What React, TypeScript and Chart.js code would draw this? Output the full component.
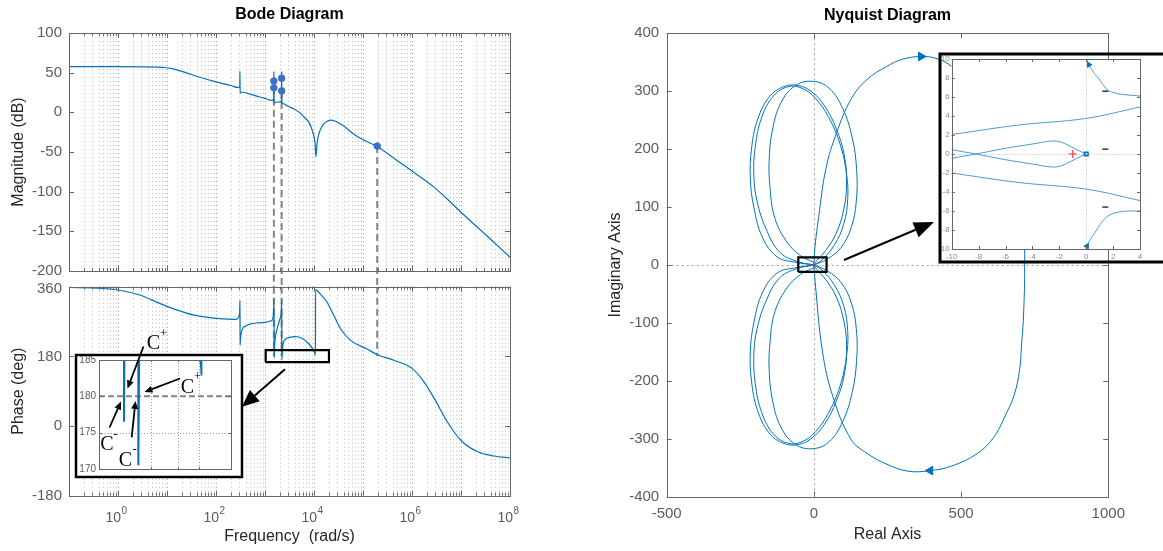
import React, { useEffect, useRef } from 'react';
import { Chart, registerables } from 'chart.js';

Chart.register(...registerables);

const FONT = '"Liberation Sans", Arial, Helvetica, sans-serif';
const SERIF = '"Liberation Serif", "Times New Roman", Times, serif';
const BLUE = '#0072BD';
const LIGHT_BLUE = '#4a9bd6';
const DOT_BLUE = '#3d6fc6';
const AXIS = '#666666';
const TICK_TEXT = '#5c5c5c';
const LABEL_TEXT = '#262626';
const GRID = '#bdbdbd';
const GRID_MAJOR = '#9a9a9a';
const GUIDE = '#858585';

// ---------- Bode axes ----------
const freqDecades = [0.1, 1, 10, 100, 1000, 1e4, 1e5, 1e6, 1e7, 1e8];
const freqMinorSteps = [2, 3, 4, 5, 6, 7, 8, 9];
const freqLabelValues = [1, 100, 1e4, 1e6, 1e8];
const freqLabelExps = ['0', '2', '4', '6', '8'];
const magTicks = [100, 50, 0, -50, -100, -150, -200];
const phaseTicks = [360, 180, 0, -180];
const insetPhaseTicks = [185, 180, 175, 170];
const insetPhaseGridFreq = [3000, 6000, 10000];
const insetPhaseGridDeg = [175];

// ---------- Bode magnitude (rad/s, dB) ----------
const magFreq = [0.1, 1, 3.16, 6.3, 8.9, 12.6, 20, 47, 100, 200, 282, 306, 308, 311, 316, 363, 631, 1000, 1349, 1479, 1507, 1517, 1528, 1585, 1820, 2138, 2173, 2188, 2208, 2344, 2884, 3981, 5129, 6310, 7943, 9333, 10470, 10965, 11480, 12590, 14790, 17780, 21380, 28180, 39810, 63100, 1e5, 195000, 501000, 1e6, 2.69e6, 6.3e6, 1e7, 3.16e7, 1e8];
const magDb = [57.5, 57.5, 57.4, 57.1, 56.5, 55, 51.7, 44.2, 38.4, 33.8, 31.3, 33, 52, 24, 25.5, 25.3, 21, 17.5, 15, 15.5, 22, 51, 14, 12.5, 13, 13.5, 22, 51, 12, 11, 8, 4, -0.4, -6, -13, -24, -38, -56, -40, -27, -17, -12, -9.7, -11.5, -17, -27, -34.5, -43, -61, -74, -93.3, -114, -126, -154, -182.7];

// ---------- Bode phase (rad/s, deg) ----------
const phaseFreq = [0.1, 0.42, 1, 2.77, 7.1, 15.6, 34.3, 75, 225, 275, 298, 305, 309, 310, 316, 339, 398, 562, 1000, 1349, 1479, 1531, 1535, 1585, 1778, 1995, 2163, 2193, 2198, 2291, 2512, 3162, 4169, 5623, 7943, 10000, 10720, 10750, 11480, 14130, 18200, 25120, 34670, 55080, 120800, 199500, 424600, 1e6, 1.74e6, 2.82e6, 5.25e6, 9.77e6, 2.14e7, 4.68e7, 1e8];
const phaseDeg = [358, 356, 351.5, 338.5, 317, 300, 287, 280, 275.6, 277, 285, 300, 325, 209, 225, 248, 258, 265, 268, 272, 285, 330, 176.5, 215, 252, 275, 300, 326, 170.5, 205, 222, 229, 231, 227, 212, 193, 183, 352, 350, 338, 321, 287, 252, 222, 199, 184, 170, 149, 115, 72, 11, -36, -66, -77.5, -82];

// markers and guide lines
const markFreq = [1517, 1517, 2188, 2188, 195000];
const markDb = [39.5, 31, 43, 27, -42.5];
const guideFreq = [1517, 2188, 195000];
const guideStartDb = [31, 27, -42.5];
const guideEndDb = -221;
const phaseGuideTop = 360;
const phaseGuideBottom = 180;
const phaseBoxFreq = [1033, 20200];
const phaseBoxDeg = [165, 196];
const insetFreqRange = [818, 22550];
const insetDegRange = [170, 185];
const criticalDeg = 180;

// ---------- Nyquist axes ----------
const nyqXTicks = [-500, 0, 500, 1000];
const nyqYTicks = [400, 300, 200, 100, 0, -100, -200, -300, -400];
const nyqInsetXTicks = [-10, -8, -6, -4, -2, 0, 2, 4];
const nyqInsetYTicks = [10, 8, 6, 4, 2, 0, -2, -4, -6, -8, -10];
const nyqMainOverlayTicks = [300, 200, 100];

// ---------- Nyquist main curves (real, imag) ----------
const bigRe = [0, 4, 16, 41, 77, 126, 180, 248, 300, 364, 420, 468, 560, 640, 690, 712, 716, 712, 705, 699, 680, 651, 610, 553, 468, 395, 320, 248, 180, 126, 65, 29, 4, 0];
const bigIm = [0, 33, 82, 167, 228, 286, 320, 343, 355, 360, 356, 343, 305, 240, 160, 70, 0, -88, -140, -180, -225, -259, -298, -326, -347, -355, -356, -344, -325, -301, -228, -149, -28, 0];

const loopATopRe = [0, -45, -95, -135, -150, -152, -142, -112, -62, -2, 52, 98, 130, 145, 144, 127, 92, 45, 0];
const loopATopIm = [5, 16, 42, 85, 140, 180, 230, 280, 310, 317, 305, 270, 220, 165, 110, 65, 30, 10, 0];
const loopBTopRe = [0, -65, -125, -175, -204, -216, -212, -192, -152, -102, -55, -10, 36, 76, 103, 111, 101, 76, 40, 10, 0];
const loopBTopIm = [0, 5, 14, 48, 100, 150, 200, 250, 290, 308, 310, 300, 275, 235, 190, 140, 95, 55, 25, 8, 0];
const loopCTopRe = [0, -62, -118, -163, -193, -204, -199, -177, -137, -86, -40, 5, 50, 88, 110, 115, 101, 70, 30, 0];
const loopCTopIm = [0, 7, 23, 63, 110, 155, 205, 255, 292, 308, 305, 288, 255, 210, 160, 115, 70, 35, 10, 0];

const loopABotRe = [0, -45, -95, -135, -150, -152, -142, -112, -62, -2, 52, 98, 130, 145, 144, 127, 92, 45, 0];
const loopABotIm = [-5, -16, -42, -85, -140, -180, -230, -280, -310, -317, -305, -270, -220, -165, -110, -65, -30, -10, 0];
const loopBBotRe = [0, -65, -125, -175, -204, -216, -212, -192, -152, -102, -55, -10, 36, 76, 103, 111, 101, 76, 40, 10, 0];
const loopBBotIm = [0, -5, -14, -48, -100, -150, -200, -250, -290, -308, -310, -300, -275, -235, -190, -140, -95, -55, -25, -8, 0];
const loopCBotRe = [0, -62, -118, -163, -193, -204, -199, -177, -137, -86, -40, 5, 50, 88, 110, 115, 101, 70, 30, 0];
const loopCBotIm = [0, -7, -23, -63, -110, -155, -205, -255, -292, -308, -305, -288, -255, -210, -160, -115, -70, -35, -10, 0];

const arrowRe = [364, 395];
const arrowIm = [360, -355];
const arrowRot = [90, -90];
const criticalRe = [-1];
const criticalIm = [0];
const nyqBoxRe = [-53, 43];
const nyqBoxIm = [-12, 13];

// ---------- Nyquist inset curves ----------
const inLineTopRe = [-10, -5, 0, 4];
const inLineTopIm = [2.05, 3.05, 3.75, 4.95];
const inLineBotRe = [-10, -5, 0, 4];
const inLineBotIm = [-2.0, -3.0, -3.7, -4.9];
const inLobeARe = [-10, -8.2, -6, -4, -2.7, -2, -1.45, -0.7, 0];
const inLobeAIm = [-0.45, 0, 0.6, 1.05, 1.35, 1.3, 1.0, 0.45, 0];
const inLobeBRe = [-10, -8.2, -6, -4, -2.7, -2, -1.45, -0.7, 0];
const inLobeBIm = [0.45, 0, -0.6, -1.05, -1.35, -1.3, -1.0, -0.45, 0];
const inTopRe = [0.03, 0.2, 0.5, 0.9, 1.3, 1.64, 2.2, 2.64, 4];
const inTopIm = [10, 9.4, 8.7, 8.0, 7.2, 6.7, 6.4, 6.28, 6.1];
const inBotRe = [0, 0.03, 0.3, 0.78, 1.2, 1.77, 2.5, 3.26, 4];
const inBotIm = [-10, -9.75, -9.0, -8.0, -7.1, -6.4, -6.1, -6.0, -6.0];
const inArrowRe = [0.2, 0.05];
const inArrowIm = [9.4, -9.7];
const inStartRe = [0];
const inStartIm = [0];

// ---------- helpers ----------
const pts = (xs: number[], ys: number[]) => xs.map((x, i) => ({ x, y: ys[i] }));
const crisp = (v: number) => Math.round(v) + 0.5;
const freqMajorGrid = freqDecades;
const freqMinorGrid = freqDecades.slice(0, -1).flatMap((d) => freqMinorSteps.map((m) => d * m));

function seg(ctx: any, x1: number, y1: number, x2: number, y2: number) {
  ctx.beginPath();
  ctx.moveTo(x1, y1);
  ctx.lineTo(x2, y2);
  ctx.stroke();
}

function frame(ctx: any, a: any, color: string, lw = 1) {
  ctx.save();
  ctx.setLineDash([]);
  ctx.strokeStyle = color;
  ctx.lineWidth = lw;
  const l = Math.round(a.left), t = Math.round(a.top), r = Math.round(a.right), b = Math.round(a.bottom);
  ctx.strokeRect(l + 0.5, t + 0.5, r - l, b - t);
  ctx.restore();
}

function xTickMarks(ctx: any, chart: any, values: number[], len: number, color = AXIS) {
  const a = chart.chartArea;
  const s = chart.scales.x;
  ctx.save();
  ctx.setLineDash([]);
  ctx.strokeStyle = color;
  ctx.lineWidth = 1;
  for (const v of values) {
    if (v < s.min || v > s.max) continue;
    const x = crisp(s.getPixelForValue(v));
    seg(ctx, x, a.bottom, x, a.bottom - len);
    seg(ctx, x, a.top, x, a.top + len);
  }
  ctx.restore();
}

function yTickMarks(ctx: any, chart: any, values: number[], len: number, color = AXIS) {
  const a = chart.chartArea;
  const s = chart.scales.y;
  ctx.save();
  ctx.setLineDash([]);
  ctx.strokeStyle = color;
  ctx.lineWidth = 1;
  for (const v of values) {
    const y = crisp(s.getPixelForValue(v));
    seg(ctx, a.left, y, a.left + len, y);
    seg(ctx, a.right, y, a.right - len, y);
  }
  ctx.restore();
}

function vGrid(ctx: any, chart: any, values: number[], color: string, dash: number[]) {
  const a = chart.chartArea;
  const s = chart.scales.x;
  ctx.save();
  ctx.strokeStyle = color;
  ctx.lineWidth = 1;
  ctx.setLineDash(dash);
  for (const v of values) {
    if (v <= s.min || v >= s.max) continue;
    const x = crisp(s.getPixelForValue(v));
    seg(ctx, x, a.top, x, a.bottom);
  }
  ctx.restore();
}

function hGrid(ctx: any, chart: any, values: number[], color: string, dash: number[]) {
  const a = chart.chartArea;
  const s = chart.scales.y;
  ctx.save();
  ctx.strokeStyle = color;
  ctx.lineWidth = 1;
  ctx.setLineDash(dash);
  for (const v of values) {
    const y = crisp(s.getPixelForValue(v));
    seg(ctx, a.left, y, a.right, y);
  }
  ctx.restore();
}

function label(ctx: any, s: string, x: number, y: number, font: string, color: string, align = 'center', baseline = 'middle') {
  ctx.save();
  ctx.font = font;
  ctx.fillStyle = color;
  ctx.textAlign = align;
  ctx.textBaseline = baseline;
  ctx.fillText(s, x, y);
  ctx.restore();
}

function vLabel(ctx: any, s: string, x: number, y: number, font: string, color: string) {
  ctx.save();
  ctx.translate(x, y);
  ctx.rotate(-Math.PI / 2);
  ctx.font = font;
  ctx.fillStyle = color;
  ctx.textAlign = 'center';
  ctx.textBaseline = 'middle';
  ctx.fillText(s, 0, 0);
  ctx.restore();
}

function arrow(ctx: any, x1: number, y1: number, x2: number, y2: number, head: number, width: number, lw: number) {
  const a = Math.atan2(y2 - y1, x2 - x1);
  const bx = x2 - head * Math.cos(a);
  const by = y2 - head * Math.sin(a);
  ctx.save();
  ctx.setLineDash([]);
  ctx.strokeStyle = '#000';
  ctx.fillStyle = '#000';
  ctx.lineWidth = lw;
  seg(ctx, x1, y1, bx, by);
  const nx = (-Math.sin(a) * width) / 2;
  const ny = (Math.cos(a) * width) / 2;
  ctx.beginPath();
  ctx.moveTo(x2, y2);
  ctx.lineTo(bx + nx, by + ny);
  ctx.lineTo(bx - nx, by - ny);
  ctx.closePath();
  ctx.fill();
  ctx.restore();
}

function baseOptions(padding: any, x: any, y: any) {
  return {
    responsive: false,
    maintainAspectRatio: false,
    animation: false,
    events: [],
    layout: { padding },
    plugins: { legend: { display: false }, tooltip: { enabled: false }, title: { display: false } },
    elements: { point: { radius: 0 } },
    scales: { x: { ...x, display: false }, y: { ...y, display: false } },
  };
}

function curve(xs: number[], ys: number[], extra: any = {}) {
  return { data: pts(xs, ys), borderColor: BLUE, borderWidth: 1, pointRadius: 0, fill: false, ...extra };
}

// canvas placements (page pixels)
const MAG = { left: 0, top: 0, w: 560, h: 295 };
const PHA = { left: 0, top: 275, w: 560, h: 276 };
const PIN = { left: 68, top: 322, w: 182, h: 160 };
const NYQ = { left: 600, top: 0, w: 563, h: 551 };
const NIN = { left: 935, top: 45, w: 228, h: 225 };

const GRID_DASH = [1, 3];

export default function App() {
  const magRef = useRef<HTMLCanvasElement>(null);
  const phaRef = useRef<HTMLCanvasElement>(null);
  const pinRef = useRef<HTMLCanvasElement>(null);
  const nyqRef = useRef<HTMLCanvasElement>(null);
  const ninRef = useRef<HTMLCanvasElement>(null);

  useEffect(() => {
    const charts: any[] = [];

    // ---------------- Magnitude ----------------
    const magDeco = {
      id: 'magDeco',
      beforeDatasetsDraw(chart: any) {
        const ctx = chart.ctx;
        vGrid(ctx, chart, freqMinorGrid, GRID, GRID_DASH);
        vGrid(ctx, chart, freqMajorGrid, GRID_MAJOR, GRID_DASH);
      },
      afterDatasetsDraw(chart: any) {
        const ctx = chart.ctx;
        const a = chart.chartArea;
        frame(ctx, a, AXIS);
        xTickMarks(ctx, chart, freqMinorGrid, 3);
        xTickMarks(ctx, chart, freqMajorGrid, 5);
        yTickMarks(ctx, chart, magTicks, 5);
        for (const v of magTicks) {
          label(ctx, String(v), a.left - 7, chart.scales.y.getPixelForValue(v), `15px ${FONT}`, TICK_TEXT, 'right');
        }
        label(ctx, 'Bode Diagram', (a.left + a.right) / 2, 15, `bold 16px ${FONT}`, '#000');
        vLabel(ctx, 'Magnitude (dB)', 19, (a.top + a.bottom) / 2, `16px ${FONT}`, LABEL_TEXT);
      },
    };
    const magChart = new Chart(magRef.current as any, {
      type: 'line',
      data: {
        datasets: [
          { ...curve(markFreq, markDb), showLine: false, pointRadius: 3.3, pointBackgroundColor: DOT_BLUE, pointBorderColor: DOT_BLUE, order: 0 },
          curve(magFreq, magDb, { cubicInterpolationMode: 'monotone', borderWidth: 1.2, order: 1 }),
          ...guideFreq.map((f, i) => ({
            data: pts([f, f], [guideStartDb[i], guideEndDb]),
            borderColor: GUIDE, borderWidth: 2, borderDash: [7, 4], pointRadius: 0, clip: false, order: 2,
          })),
        ],
      },
      options: baseOptions(
        { left: 69, top: 33, right: MAG.w - 510, bottom: MAG.h - 271 },
        { type: 'logarithmic', min: 0.1, max: 1e8 },
        { type: 'linear', min: -200, max: 100 },
      ) as any,
      plugins: [magDeco],
    });
    charts.push(magChart);

    // ---------------- Phase ----------------
    const phaDeco = {
      id: 'phaDeco',
      beforeDatasetsDraw(chart: any) {
        const ctx = chart.ctx;
        vGrid(ctx, chart, freqMinorGrid, GRID, GRID_DASH);
        vGrid(ctx, chart, freqMajorGrid, GRID_MAJOR, GRID_DASH);
      },
      afterDatasetsDraw(chart: any) {
        const ctx = chart.ctx;
        const a = chart.chartArea;
        frame(ctx, a, AXIS);
        xTickMarks(ctx, chart, freqMinorGrid, 3);
        xTickMarks(ctx, chart, freqMajorGrid, 5);
        yTickMarks(ctx, chart, phaseTicks, 5);
        for (const v of phaseTicks) {
          const y = chart.scales.y.getPixelForValue(v) + (v === 360 ? 2 : 0);
          label(ctx, String(v), a.left - 7, y, `15px ${FONT}`, TICK_TEXT, 'right');
        }
        freqLabelValues.forEach((f, i) => {
          const x = chart.scales.x.getPixelForValue(f);
          ctx.save();
          ctx.font = `14px ${FONT}`;
          const w1 = ctx.measureText('10').width;
          ctx.font = `10px ${FONT}`;
          const w2 = ctx.measureText(freqLabelExps[i]).width;
          ctx.restore();
          const x0 = x - (w1 + w2) / 2 - 2;
          label(ctx, '10', x0, a.bottom + 26, `14px ${FONT}`, TICK_TEXT, 'left', 'alphabetic');
          label(ctx, freqLabelExps[i], x0 + w1 + 0.5, a.bottom + 18, `10px ${FONT}`, TICK_TEXT, 'left', 'alphabetic');
        });
        label(ctx, 'Frequency  (rad/s)', (a.left + a.right) / 2, a.bottom + 41, `16px ${FONT}`, LABEL_TEXT);
        vLabel(ctx, 'Phase (deg)', 19, (a.top + a.bottom) / 2, `16px ${FONT}`, LABEL_TEXT);
        arrow(ctx, 285 - PHA.left, 369.3 - PHA.top, 242 - PHA.left, 406.7 - PHA.top, 17, 15, 2);
      },
    };
    const phaChart = new Chart(phaRef.current as any, {
      type: 'line',
      data: {
        datasets: [
          curve(phaseFreq, phaseDeg, { cubicInterpolationMode: 'monotone', borderWidth: 1.2, order: 1 }),
          ...guideFreq.map((f) => ({
            data: pts([f, f], [phaseGuideTop, phaseGuideBottom]),
            borderColor: GUIDE, borderWidth: 2, borderDash: [7, 4], pointRadius: 0, order: 2,
          })),
          {
            data: pts(
              [phaseBoxFreq[0], phaseBoxFreq[1], phaseBoxFreq[1], phaseBoxFreq[0], phaseBoxFreq[0]],
              [phaseBoxDeg[0], phaseBoxDeg[0], phaseBoxDeg[1], phaseBoxDeg[1], phaseBoxDeg[0]],
            ),
            borderColor: '#000', borderWidth: 2.2, pointRadius: 0, order: 0, clip: false,
          },
        ],
      },
      options: baseOptions(
        { left: 69, top: 286.7 - PHA.top, right: PHA.w - 510, bottom: PHA.h - (495.7 - PHA.top) },
        { type: 'logarithmic', min: 0.1, max: 1e8 },
        { type: 'linear', min: -180, max: 360 },
      ) as any,
      plugins: [phaDeco],
    });
    charts.push(phaChart);

    // ---------------- Phase inset ----------------
    const pinDeco = {
      id: 'pinDeco',
      beforeDraw(chart: any) {
        const ctx = chart.ctx;
        ctx.save();
        ctx.fillStyle = '#fff';
        ctx.fillRect(76 - PIN.left, 355 - PIN.top, 166, 122);
        ctx.restore();
      },
      beforeDatasetsDraw(chart: any) {
        const ctx = chart.ctx;
        vGrid(ctx, chart, insetPhaseGridFreq, GRID_MAJOR, [1, 2]);
        hGrid(ctx, chart, insetPhaseGridDeg, GRID_MAJOR, [1, 2]);
      },
      afterDatasetsDraw(chart: any) {
        const ctx = chart.ctx;
        const a = chart.chartArea;
        frame(ctx, a, AXIS);
        xTickMarks(ctx, chart, insetPhaseGridFreq, 2);
        yTickMarks(ctx, chart, insetPhaseTicks, 3);
        for (const v of insetPhaseTicks) {
          label(ctx, String(v), a.left - 3, chart.scales.y.getPixelForValue(v), `10px ${FONT}`, TICK_TEXT, 'right');
        }
        ctx.save();
        ctx.strokeStyle = '#000';
        ctx.lineWidth = 2.5;
        ctx.strokeRect(76 - PIN.left, 355 - PIN.top, 166, 122);
        ctx.restore();
        const ox = PIN.left, oy = PIN.top;
        const notes = [
          { x: 153.3, y: 343.3, sx: 163.3, sy: 334, s: '+' },
          { x: 187.3, y: 387.3, sx: 197.7, sy: 377, s: '+' },
          { x: 107, y: 445, sx: 115.3, sy: 435, s: '-' },
          { x: 125.5, y: 460.3, sx: 134.7, sy: 449.3, s: '-' },
        ];
        for (const n of notes) {
          label(ctx, 'C', n.x - ox, n.y - oy, `20px ${SERIF}`, '#000');
          label(ctx, n.s, n.sx - ox, n.sy - oy, `13px ${SERIF}`, '#000');
        }
        const arrows = [
          [143.5, 346.5, 127.5, 388.5],
          [180, 378.5, 144.5, 392],
          [109.5, 427.5, 121, 401.5],
          [131.7, 437.3, 135.5, 401],
        ];
        for (const [x1, y1, x2, y2] of arrows) arrow(ctx, x1 - ox, y1 - oy, x2 - ox, y2 - oy, 8, 7, 1.8);
      },
    };
    const pinChart = new Chart(pinRef.current as any, {
      type: 'line',
      data: {
        datasets: [
          curve(phaseFreq, phaseDeg, { cubicInterpolationMode: 'monotone', borderWidth: 2, order: 0 }),
          {
            data: pts(insetFreqRange, [criticalDeg, criticalDeg]),
            borderColor: GUIDE, borderWidth: 2, borderDash: [6, 3], pointRadius: 0, order: 1,
          },
        ],
      },
      options: baseOptions(
        { left: 99 - PIN.left, top: 360 - PIN.top, right: PIN.w - (231 - PIN.left), bottom: PIN.h - (469 - PIN.top) },
        { type: 'logarithmic', min: insetFreqRange[0], max: insetFreqRange[1] },
        { type: 'linear', min: insetDegRange[0], max: insetDegRange[1] },
      ) as any,
      plugins: [pinDeco],
    });
    charts.push(pinChart);

    // ---------------- Nyquist main ----------------
    const nyqDeco = {
      id: 'nyqDeco',
      beforeDatasetsDraw(chart: any) {
        const ctx = chart.ctx;
        vGrid(ctx, chart, [0], '#a0a0a0', [2, 3]);
        hGrid(ctx, chart, [0], '#a0a0a0', [2, 3]);
      },
      afterDatasetsDraw(chart: any) {
        const ctx = chart.ctx;
        const a = chart.chartArea;
        frame(ctx, a, AXIS);
        xTickMarks(ctx, chart, nyqXTicks, 5);
        yTickMarks(ctx, chart, nyqYTicks, 5);
        for (const v of nyqYTicks) {
          label(ctx, String(v), a.left - 7.5, chart.scales.y.getPixelForValue(v), `15px ${FONT}`, TICK_TEXT, 'right');
        }
        for (const v of nyqXTicks) {
          label(ctx, String(v), chart.scales.x.getPixelForValue(v), a.bottom + 17, `15px ${FONT}`, TICK_TEXT);
        }
        label(ctx, 'Nyquist Diagram', (a.left + a.right) / 2, 16, `bold 16px ${FONT}`, '#000');
        label(ctx, 'Real Axis', (a.left + a.right) / 2, 535, `16px ${FONT}`, LABEL_TEXT);
        vLabel(ctx, 'Imaginary Axis', 616 - NYQ.left, (a.top + a.bottom) / 2, `16px ${FONT}`, LABEL_TEXT);
        arrow(ctx, 844 - NYQ.left, 260, 934 - NYQ.left, 222, 20, 16, 2);
      },
    };
    const nyqChart = new Chart(nyqRef.current as any, {
      type: 'line',
      data: {
        datasets: [
          {
            data: pts(
              [nyqBoxRe[0], nyqBoxRe[1], nyqBoxRe[1], nyqBoxRe[0], nyqBoxRe[0]],
              [nyqBoxIm[0], nyqBoxIm[0], nyqBoxIm[1], nyqBoxIm[1], nyqBoxIm[0]],
            ),
            borderColor: '#000', borderWidth: 2.2, pointRadius: 0, order: 0,
          },
          {
            data: pts(arrowRe, arrowIm), showLine: false, pointStyle: 'triangle', pointRadius: 5,
            rotation: arrowRot, pointBackgroundColor: BLUE, pointBorderColor: BLUE, order: 0,
          },
          {
            data: pts(criticalRe, criticalIm), showLine: false, pointStyle: 'cross', pointRadius: 3,
            pointBorderColor: '#ff3030', pointBorderWidth: 1, order: 0,
          },
          curve(bigRe, bigIm, { tension: 0.4, order: 1 }),
          curve(loopATopRe, loopATopIm, { tension: 0.4, order: 1 }),
          curve(loopBTopRe, loopBTopIm, { tension: 0.4, order: 1 }),
          curve(loopCTopRe, loopCTopIm, { tension: 0.4, order: 1 }),
          curve(loopABotRe, loopABotIm, { tension: 0.4, order: 1 }),
          curve(loopBBotRe, loopBBotIm, { tension: 0.4, order: 1 }),
          curve(loopCBotRe, loopCBotIm, { tension: 0.4, order: 1 }),
        ],
      },
      options: baseOptions(
        { left: 666.7 - NYQ.left, top: 33.3, right: NYQ.w - (1108.3 - NYQ.left), bottom: NYQ.h - 496.7 },
        { type: 'linear', min: -500, max: 1000 },
        { type: 'linear', min: -400, max: 400 },
      ) as any,
      plugins: [nyqDeco],
    });
    charts.push(nyqChart);

    // ---------------- Nyquist inset ----------------
    const ninDeco = {
      id: 'ninDeco',
      beforeDatasetsDraw(chart: any) {
        const ctx = chart.ctx;
        const a = chart.chartArea;
        ctx.save();
        ctx.fillStyle = '#fff';
        ctx.fillRect(a.left, a.top, a.right - a.left, a.bottom - a.top);
        ctx.restore();
        vGrid(ctx, chart, [0], '#c8c8c8', [1, 1.5]);
        hGrid(ctx, chart, [0], '#c8c8c8', [1, 1.5]);
      },
      afterDatasetsDraw(chart: any) {
        const ctx = chart.ctx;
        const a = chart.chartArea;
        frame(ctx, a, AXIS);
        xTickMarks(ctx, chart, nyqInsetXTicks, 3);
        yTickMarks(ctx, chart, nyqInsetYTicks, 3);
        for (const v of nyqInsetYTicks) {
          label(ctx, String(v), a.left - 2, chart.scales.y.getPixelForValue(v), `8px ${FONT}`, '#8a8a8a', 'right');
        }
        for (const v of nyqInsetXTicks) {
          label(ctx, String(v), chart.scales.x.getPixelForValue(v), a.bottom + 8, `8px ${FONT}`, '#8a8a8a');
        }
        const ms = nyqChart.scales.y as any;
        const mRight = (nyqChart.chartArea as any).right + NYQ.left - NIN.left;
        ctx.save();
        ctx.strokeStyle = '#333';
        ctx.lineWidth = 1.5;
        for (const v of nyqMainOverlayTicks) {
          const y = ms.getPixelForValue(v) + NYQ.top - NIN.top;
          seg(ctx, mRight - 6, y, mRight, y);
        }
        ctx.restore();
        ctx.save();
        ctx.strokeStyle = '#000';
        ctx.lineWidth = 3;
        ctx.strokeRect(940 - NIN.left, 54 - NIN.top, 260, 208);
        ctx.restore();
      },
    };
    const ninChart = new Chart(ninRef.current as any, {
      type: 'line',
      data: {
        datasets: [
          {
            data: pts(inArrowRe, inArrowIm), showLine: false, pointStyle: 'triangle', pointRadius: 3,
            rotation: arrowRot, pointBackgroundColor: BLUE, pointBorderColor: BLUE, order: 0,
          },
          {
            data: pts(criticalRe, criticalIm), showLine: false, pointStyle: 'cross', pointRadius: 4,
            pointBorderColor: '#ff2020', pointBorderWidth: 1, order: 0,
          },
          {
            data: pts(inStartRe, inStartIm), showLine: false, pointStyle: 'rect', pointRadius: 2.6,
            pointBorderColor: BLUE, pointBackgroundColor: 'rgba(255,255,255,0)', pointBorderWidth: 1.5, order: 0,
          },
          curve(inLineTopRe, inLineTopIm, { tension: 0.4, borderColor: LIGHT_BLUE, order: 1 }),
          curve(inLineBotRe, inLineBotIm, { tension: 0.4, borderColor: LIGHT_BLUE, order: 1 }),
          curve(inLobeARe, inLobeAIm, { tension: 0.4, borderColor: LIGHT_BLUE, order: 1 }),
          curve(inLobeBRe, inLobeBIm, { tension: 0.4, borderColor: LIGHT_BLUE, order: 1 }),
          curve(inTopRe, inTopIm, { tension: 0.4, borderColor: LIGHT_BLUE, order: 1 }),
          curve(inBotRe, inBotIm, { tension: 0.4, borderColor: LIGHT_BLUE, order: 1 }),
        ],
      },
      options: baseOptions(
        { left: 951.7 - NIN.left, top: 59 - NIN.top, right: NIN.w - (1140 - NIN.left), bottom: NIN.h - (249 - NIN.top) },
        { type: 'linear', min: -10, max: 4 },
        { type: 'linear', min: -10, max: 10 },
      ) as any,
      plugins: [ninDeco],
    });
    charts.push(ninChart);

    return () => charts.forEach((c) => c.destroy());
  }, []);

  const place = (p: any) => ({ position: 'absolute' as const, left: p.left, top: p.top, width: p.w, height: p.h });

  return (
    <div style={{ position: 'absolute', left: 0, top: 0, width: 1163, height: 551, background: '#fff', overflow: 'hidden' }}>
      <canvas ref={magRef} width={MAG.w} height={MAG.h} style={place(MAG)} />
      <canvas ref={phaRef} width={PHA.w} height={PHA.h} style={place(PHA)} />
      <canvas ref={pinRef} width={PIN.w} height={PIN.h} style={place(PIN)} />
      <canvas ref={nyqRef} width={NYQ.w} height={NYQ.h} style={place(NYQ)} />
      <canvas ref={ninRef} width={NIN.w} height={NIN.h} style={place(NIN)} />
    </div>
  );
}
